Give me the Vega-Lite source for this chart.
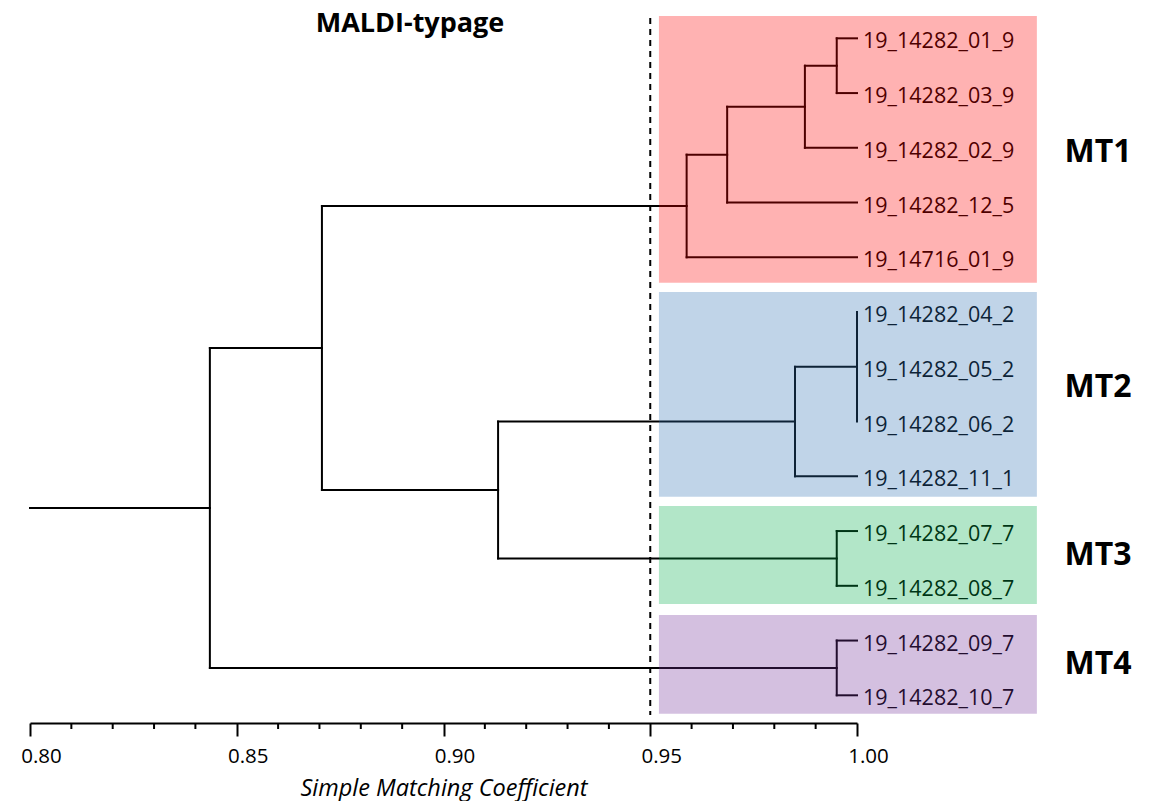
{
  "$schema": "https://vega.github.io/schema/vega-lite/v6.json",
  "width": 827,
  "height": 723,
  "autosize": {"type": "none"},
  "padding": {"left": 30, "top": 0, "right": 303, "bottom": 78},
  "background": "white",
  "config": {"view": {"stroke": null}, "font": "Open Sans"},
  "datasets": {
    "segments": [
      {"x0": 0.9951, "x1": 1.0, "y0": 0, "y1": 0},
      {"x0": 0.9951, "x1": 1.0, "y0": 1, "y1": 1},
      {"x0": 0.9874, "x1": 1.0, "y0": 2, "y1": 2},
      {"x0": 0.9686, "x1": 1.0, "y0": 3, "y1": 3},
      {"x0": 0.9588, "x1": 1.0, "y0": 4, "y1": 4},
      {"x0": 0.985, "x1": 1.0, "y0": 8, "y1": 8},
      {"x0": 0.9951, "x1": 1.0, "y0": 9, "y1": 9},
      {"x0": 0.9951, "x1": 1.0, "y0": 10, "y1": 10},
      {"x0": 0.9951, "x1": 1.0, "y0": 11, "y1": 11},
      {"x0": 0.9951, "x1": 1.0, "y0": 12, "y1": 12},
      {"x0": 0.9951, "x1": 0.9951, "y0": 0, "y1": 1},
      {"x0": 0.9874, "x1": 0.9874, "y0": 0.5, "y1": 2},
      {"x0": 0.9686, "x1": 0.9686, "y0": 1.25, "y1": 3},
      {"x0": 0.9588, "x1": 0.9588, "y0": 2.125, "y1": 4},
      {"x0": 1.0, "x1": 1.0, "y0": 5, "y1": 7},
      {"x0": 0.985, "x1": 0.985, "y0": 6, "y1": 8},
      {"x0": 0.9951, "x1": 0.9951, "y0": 9, "y1": 10},
      {"x0": 0.9951, "x1": 0.9951, "y0": 11, "y1": 12},
      {"x0": 0.9132, "x1": 0.9132, "y0": 7, "y1": 9.5},
      {"x0": 0.8706, "x1": 0.8706, "y0": 3.0625, "y1": 8.25},
      {"x0": 0.8435, "x1": 0.8435, "y0": 5.656, "y1": 11.5},
      {"x0": 0.9874, "x1": 0.9951, "y0": 0.5, "y1": 0.5},
      {"x0": 0.9686, "x1": 0.9874, "y0": 1.25, "y1": 1.25},
      {"x0": 0.9588, "x1": 0.9686, "y0": 2.125, "y1": 2.125},
      {"x0": 0.8706, "x1": 0.9588, "y0": 3.0625, "y1": 3.0625},
      {"x0": 0.985, "x1": 1.0, "y0": 6, "y1": 6},
      {"x0": 0.9132, "x1": 0.985, "y0": 7, "y1": 7},
      {"x0": 0.9132, "x1": 0.9951, "y0": 9.5, "y1": 9.5},
      {"x0": 0.8706, "x1": 0.9132, "y0": 8.25, "y1": 8.25},
      {"x0": 0.8435, "x1": 0.8706, "y0": 5.656, "y1": 5.656},
      {"x0": 0.8435, "x1": 0.9951, "y0": 11.5, "y1": 11.5},
      {"x0": 0.8, "x1": 0.8435, "y0": 8.578, "y1": 8.578}
    ],
    "minorTicks": [
      {"v": 0.81}, {"v": 0.82}, {"v": 0.83}, {"v": 0.84},
      {"v": 0.86}, {"v": 0.87}, {"v": 0.88}, {"v": 0.89},
      {"v": 0.91}, {"v": 0.92}, {"v": 0.93}, {"v": 0.94},
      {"v": 0.96}, {"v": 0.97}, {"v": 0.98}, {"v": 0.99}
    ],
    "leaves": [
      {"name": "19_14282_01_9", "idx": 0},
      {"name": "19_14282_03_9", "idx": 1},
      {"name": "19_14282_02_9", "idx": 2},
      {"name": "19_14282_12_5", "idx": 3},
      {"name": "19_14716_01_9", "idx": 4},
      {"name": "19_14282_04_2", "idx": 5},
      {"name": "19_14282_05_2", "idx": 6},
      {"name": "19_14282_06_2", "idx": 7},
      {"name": "19_14282_11_1", "idx": 8},
      {"name": "19_14282_07_7", "idx": 9},
      {"name": "19_14282_08_7", "idx": 10},
      {"name": "19_14282_09_7", "idx": 11},
      {"name": "19_14282_10_7", "idx": 12}
    ],
    "clusters": [
      {"cluster": "MT1", "x0": 0.9521, "x1": 1.0435, "y0": -0.407, "y1": 4.464, "ly": 2.254},
      {"cluster": "MT2", "x0": 0.9521, "x1": 1.0435, "y0": 4.634, "y1": 8.373, "ly": 6.552},
      {"cluster": "MT3", "x0": 0.9521, "x1": 1.0435, "y0": 8.542, "y1": 10.332, "ly": 9.62},
      {"cluster": "MT4", "x0": 0.9521, "x1": 1.0435, "y0": 10.533, "y1": 12.336, "ly": 11.61}
    ],
    "titles": [
      {"text": "MALDI-typage", "x": 0.8919, "y": -0.11}
    ]
  },
  "layer": [
    {
      "data": {"name": "segments"},
      "mark": {"type": "rule", "color": "black", "strokeWidth": 2, "strokeCap": "square"},
      "encoding": {
        "x": {
          "field": "x0", "type": "quantitative",
          "scale": {"domain": [0.8, 1.0], "nice": false, "zero": false},
          "axis": {
            "values": [0.8, 0.85, 0.9, 0.95, 1.0],
            "format": ".2f",
            "tickSize": 13,
            "tickWidth": 2,
            "tickColor": "black",
            "domainColor": "black",
            "domainWidth": 2,
            "grid": false,
            "labelFontSize": 20.5,
            "labelColor": "black",
            "labelPadding": 10,
            "labelOffset": 11,
            "labelFlush": false,
            "labelOverlap": false,
            "title": "Simple Matching Coefficient",
            "titleFontSize": 23.5,
            "titleFontStyle": "italic",
            "titleFontWeight": "normal",
            "titleColor": "black",
            "titleBaseline": "alphabetic",
            "titleY": 72
          }
        },
        "x2": {"field": "x1"},
        "y": {
          "field": "y0", "type": "quantitative",
          "scale": {"domain": [-0.7, 12.506], "reverse": true, "nice": false, "zero": false},
          "axis": null
        },
        "y2": {"field": "y1"}
      }
    },
    {
      "data": {"name": "minorTicks"},
      "mark": {"type": "rule", "color": "black", "strokeWidth": 2},
      "encoding": {
        "x": {"field": "v", "type": "quantitative"},
        "y": {"datum": 12.506, "type": "quantitative", "axis": null},
        "y2": {"datum": 12.616}
      }
    },
    {
      "data": {"values": [{"threshold": 0.95, "top": -0.37, "bottom": 12.36}]},
      "mark": {"type": "rule", "color": "black", "strokeWidth": 2, "strokeDash": [6, 5]},
      "encoding": {
        "x": {"field": "threshold", "type": "quantitative"},
        "y": {"field": "top", "type": "quantitative", "axis": null},
        "y2": {"field": "bottom"}
      }
    },
    {
      "data": {"name": "leaves"},
      "mark": {"type": "text", "align": "left", "baseline": "alphabetic", "dx": 6, "dy": 10, "fontSize": 21.5, "color": "black"},
      "encoding": {
        "x": {"datum": 1.0, "type": "quantitative"},
        "y": {"field": "idx", "type": "quantitative", "axis": null},
        "text": {"field": "name"}
      }
    },
    {
      "data": {"name": "clusters"},
      "mark": {"type": "rect", "opacity": 0.3},
      "encoding": {
        "x": {"field": "x0", "type": "quantitative"},
        "x2": {"field": "x1"},
        "y": {"field": "y0", "type": "quantitative", "axis": null},
        "y2": {"field": "y1"},
        "fill": {
          "field": "cluster", "type": "nominal", "legend": null,
          "scale": {"domain": ["MT1", "MT2", "MT3", "MT4"], "range": ["#FF0000", "#2D70B2", "#00AC48", "#702D98"]}
        }
      }
    },
    {
      "data": {"name": "clusters"},
      "mark": {"type": "text", "align": "center", "baseline": "alphabetic", "fontSize": 32, "fontWeight": "bold", "color": "black"},
      "encoding": {
        "x": {"datum": 1.0583, "type": "quantitative"},
        "y": {"field": "ly", "type": "quantitative", "axis": null},
        "text": {"field": "cluster"}
      }
    },
    {
      "data": {"name": "titles"},
      "mark": {"type": "text", "align": "center", "baseline": "alphabetic", "fontSize": 27, "fontWeight": "bold", "color": "black"},
      "encoding": {
        "x": {"field": "x", "type": "quantitative"},
        "y": {"field": "y", "type": "quantitative", "axis": null},
        "text": {"field": "text"}
      }
    }
  ]
}
